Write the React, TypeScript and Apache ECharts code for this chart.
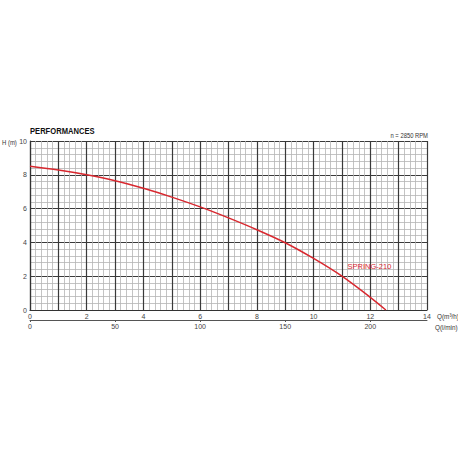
import React, { useEffect, useRef } from "react";
import * as echarts from "echarts";

const flowM3h = [0, 1, 2, 3, 4, 5, 6, 7, 8, 9, 10, 11, 12, 12.55];
const headM = [8.5, 8.28, 8.0, 7.65, 7.2, 6.68, 6.1, 5.45, 4.75, 3.98, 3.05, 2.0, 0.75, 0];
const seriesName = "SPRING-210";
const xMax = 14;
const yMax = 10;
const lminMax = (xMax * 1000) / 60;

export default function App() {
  const ref = useRef<HTMLDivElement>(null);
  useEffect(() => {
    if (!ref.current) return;
    const chart = echarts.init(ref.current, undefined, { renderer: "svg" });
    const font = "Liberation Sans, Arial, sans-serif";
    const labelStyle = { fontSize: 7, color: "#444", fontFamily: font };
    chart.setOption({
      animation: false,
      backgroundColor: "#fff",
      grid: { left: 30, top: 141, right: 31, bottom: 148 },
      xAxis: [
        {
          type: "value",
          min: 0,
          max: xMax,
          interval: 1,
          axisLine: { show: true, lineStyle: { color: "#333", width: 1.2 } },
          axisTick: { show: false },
          axisLabel: {
            ...labelStyle,
            margin: 3,
            formatter: (v: number) => (v % 2 === 0 ? String(v) : ""),
          },
          splitLine: { show: true, lineStyle: { color: "#3a3a3a", width: 1.2 } },
          minorTick: { show: false, splitNumber: 5 },
          minorSplitLine: { show: true, lineStyle: { color: "#b5b5b5", width: 0.8 } },
        },
        {
          type: "value",
          position: "bottom",
          offset: 10,
          min: 0,
          max: lminMax,
          interval: 50,
          axisLine: { show: true, lineStyle: { color: "#555", width: 1 } },
          axisTick: { show: true, length: 2, lineStyle: { color: "#555" } },
          axisLabel: { ...labelStyle, margin: 3, showMaxLabel: false },
          splitLine: { show: false },
        },
      ],
      yAxis: {
        type: "value",
        min: 0,
        max: yMax,
        interval: 2,
        axisLine: { show: true, lineStyle: { color: "#333", width: 1.2 } },
        axisTick: { show: false },
        axisLabel: { ...labelStyle, margin: 3 },
        splitLine: { show: true, lineStyle: { color: "#3a3a3a", width: 1.2 } },
        minorTick: { show: false, splitNumber: 5 },
        minorSplitLine: { show: true, lineStyle: { color: "#b5b5b5", width: 0.8 } },
      },
      series: [
        {
          name: seriesName,
          type: "line",
          xAxisIndex: 0,
          data: flowM3h.map((q, i) => [q, headM[i]]),
          smooth: 0.3,
          showSymbol: false,
          lineStyle: { color: "#d8282f", width: 1.5 },
          markPoint: {
            symbol: "circle",
            symbolSize: 0,
            data: [{ coord: [11.2, 2.55] }],
            label: {
              show: true,
              formatter: seriesName,
              position: "right",
              distance: 0,
              fontSize: 7.5,
              color: "#d8282f",
              fontFamily: font,
            },
          },
        },
      ],
      graphic: [
        {
          type: "text",
          x: 30,
          y: 126,
          scaleX: 0.8,
          style: {
            text: "PERFORMANCES",
            fontSize: 9.5,
            fontWeight: "bold",
            fill: "#111",
            fontFamily: font,
          },
        },
        {
          type: "text",
          x: 2,
          y: 138.5,
          scaleX: 0.85,
          style: { text: "H (m)", fontSize: 7, fill: "#333", fontFamily: font },
        },
        {
          type: "text",
          x: 428,
          y: 132,
          scaleX: 0.9,
          style: { text: "n = 2850 RPM", fontSize: 6.5, fill: "#333", fontFamily: font, align: "right" },
        },
        {
          type: "text",
          x: 437,
          y: 312,
          scaleX: 0.85,
          style: { text: "Q(m³/h)", fontSize: 7.5, fill: "#333", fontFamily: font },
        },
        {
          type: "text",
          x: 435,
          y: 323,
          scaleX: 0.85,
          style: { text: "Q(l/min)", fontSize: 7.5, fill: "#333", fontFamily: font },
        },
      ],
    });
    return () => chart.dispose();
  }, []);
  return (
    <div
      ref={ref}
      style={{ position: "absolute", left: 0, top: 0, width: 458, height: 458 }}
    />
  );
}
